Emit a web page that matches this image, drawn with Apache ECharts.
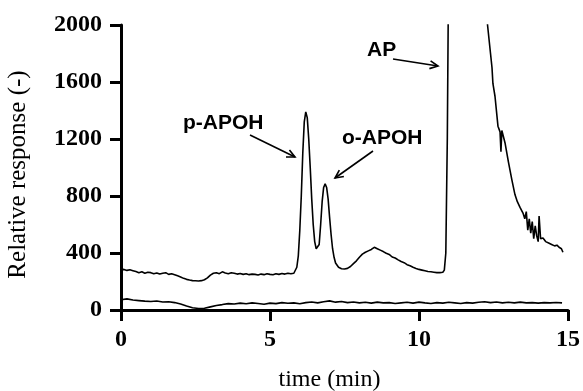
<!DOCTYPE html>
<html>
<head>
<meta charset="utf-8">
<script src="https://cdn.jsdelivr.net/npm/echarts@6/dist/echarts.min.js"></script>
<style>html,body{margin:0;padding:0;background:#fff}#c{width:583px;height:391px}</style>
</head>
<body>
<div id="c"></div>
<script>
// ---- data ----
var xTicks = [0, 5, 10, 15];
var yTicks = [0, 400, 800, 1200, 1600, 2000];

var timeUpper = [0.0,0.1,0.2,0.3,0.4,0.5,0.6,0.7,0.8,0.9,1.0,1.1,1.2,1.3,1.4,1.5,1.6,1.7,1.8,1.9,
  2.0,2.1,2.2,2.3,2.4,2.5,2.6,2.7,2.8,2.9,3.0,3.1,3.2,3.3,3.4,3.5,3.6,3.7,3.8,3.9,
  4.0,4.1,4.2,4.3,4.4,4.5,4.6,4.7,4.8,4.9,5.0,5.1,5.2,5.3,5.4,5.5,5.6,5.7,5.8,5.85,
  5.9,5.95,6.0,6.05,6.1,6.15,6.2,6.25,6.3,6.35,6.4,6.45,6.5,6.55,6.6,6.65,6.7,6.75,6.8,6.85,
  6.9,6.95,7.0,7.05,7.1,7.15,7.2,7.3,7.4,7.5,7.6,7.7,7.8,7.9,8.0,8.1,8.2,8.3,8.4,8.5,
  8.6,8.7,8.8,8.9,9.0,9.1,9.2,9.3,9.4,9.5,9.6,9.7,9.8,9.9,10.0,10.1,10.2,10.3,10.4,10.5,
  10.6,10.7,10.8,10.85,10.9,10.95,11.0,11.1,12.0,12.2,12.3,12.4,12.45,12.48,12.55,12.65,12.72,12.75,12.78,12.89,
  13.0,13.12,13.22,13.3,13.39,13.49,13.55,13.6,13.65,13.7,13.75,13.8,13.85,13.9,13.95,14.0,14.03,14.08,14.16,14.25,
  14.35,14.45,14.55,14.63,14.7,14.78,14.83];
var respUpper = [280,285,278,282,276,270,262,268,258,265,262,255,260,252,258,262,250,255,248,240,
  232,222,215,210,206,205,203,206,212,225,245,258,262,255,268,260,255,262,258,252,
  256,250,254,248,252,250,246,252,248,255,250,247,254,250,256,252,258,254,258,270,
  300,380,560,800,1100,1320,1390,1350,1200,1000,780,600,480,430,420,460,600,760,860,885,
  860,780,650,530,430,370,330,300,290,288,292,305,325,345,370,392,405,415,425,440,
  430,420,410,398,390,372,365,352,340,332,318,310,300,292,285,280,275,270,268,265,
  262,262,265,280,400,1200,2600,3500,3500,2400,2000,1800,1700,1590,1500,1290,1250,1110,1260,1170,
  1040,910,810,760,720,680,640,690,560,640,540,620,500,590,520,480,660,500,505,480,
  470,460,450,455,440,430,405];

var timeLower = [0.0,0.2,0.4,0.6,0.8,1.0,1.2,1.4,1.6,1.8,2.0,2.2,2.4,2.6,2.8,3.0,3.2,3.4,3.6,3.8,
  4.0,4.2,4.4,4.6,4.8,5.0,5.2,5.4,5.6,5.8,6.0,6.2,6.4,6.6,6.8,7.0,7.2,7.4,7.6,7.8,
  8.0,8.2,8.4,8.6,8.8,9.0,9.2,9.4,9.6,9.8,10.0,10.2,10.4,10.6,10.8,11.0,11.2,11.4,11.6,11.8,
  12.0,12.2,12.4,12.6,12.8,13.0,13.2,13.4,13.6,13.8,14.0,14.2,14.4,14.6,14.8];
var respLower = [72,78,70,66,62,60,63,56,58,52,42,28,16,10,12,22,32,38,45,42,
  48,44,50,46,40,48,45,52,47,50,44,52,56,50,58,64,55,60,52,56,
  50,54,48,55,50,52,46,50,54,48,55,50,46,52,48,54,50,46,52,48,
  54,58,52,56,50,54,50,55,50,52,48,52,50,53,50];

var labelTexts = ['p-APOH', 'o-APOH', 'AP'];

function pairs(xs, ys) { return xs.map(function (x, i) { return [x, ys[i]]; }); }

var chart = echarts.init(document.getElementById('c'), null, { renderer: 'canvas' });

function arrow(x1, y1, x2, y2) {
  var a = Math.atan2(y2 - y1, x2 - x1), L = 9, s = 0.45;
  return {
    type: 'group', children: [
      { type: 'line', shape: { x1: x1, y1: y1, x2: x2, y2: y2 }, style: { stroke: '#000', lineWidth: 1.6 } },
      { type: 'polyline', shape: { points: [
        [x2 - L * Math.cos(a - s), y2 - L * Math.sin(a - s)], [x2, y2],
        [x2 - L * Math.cos(a + s), y2 - L * Math.sin(a + s)]] },
        style: { stroke: '#000', lineWidth: 1.6, fill: null } }
    ]
  };
}
var annFont = 'bold 21px "Liberation Sans", Arial, sans-serif';
var plain = function (v) { return String(v); };

chart.setOption({
  animation: false,
  backgroundColor: '#fff',
  grid: { left: 121, right: 15, top: 25, bottom: 81, containLabel: false, outerBoundsMode: 'none' },
  xAxis: {
    type: 'value', min: 0, max: 15, interval: 5,
    name: 'time (min)', nameLocation: 'middle', nameGap: 58,
    nameTextStyle: { fontFamily: '"Liberation Serif", serif', fontSize: 24, fontWeight: 'normal', color: '#000', padding: [0, 30, 0, 0] },
    axisLine: { onZero: false, lineStyle: { color: '#000', width: 3 } },
    axisTick: { inside: false, length: 11, lineStyle: { color: '#000', width: 3 } },
    axisLabel: { margin: 18, color: '#000', fontFamily: '"Liberation Serif", serif', fontSize: 24, fontWeight: 'bold', formatter: plain },
    splitLine: { show: false }
  },
  yAxis: {
    type: 'value', min: 0, max: 2000, interval: 400,
    name: 'Relative response (-)', nameLocation: 'middle', nameGap: 90, nameRotate: 90,
    nameTextStyle: { fontFamily: '"Liberation Serif", serif', fontSize: 25, fontWeight: 'normal', color: '#000', padding: [0, 14, 0, 0] },
    axisLine: { onZero: false, lineStyle: { color: '#000', width: 3 } },
    axisTick: { inside: false, length: 11, lineStyle: { color: '#000', width: 3 } },
    axisLabel: { margin: 19, color: '#000', fontFamily: '"Liberation Serif", serif', fontSize: 24, fontWeight: 'bold', formatter: plain },
    splitLine: { show: false }
  },
  series: [
    { type: 'line', data: pairs(timeUpper, respUpper), showSymbol: false, clip: true,
      lineStyle: { color: '#000', width: 1.6 } },
    { type: 'line', data: pairs(timeLower, respLower), showSymbol: false, clip: true,
      lineStyle: { color: '#000', width: 1.6 } }
  ],
  graphic: [
    { type: 'text', left: 183, top: 113, style: { text: labelTexts[0], font: annFont, fill: '#000' } },
    { type: 'text', left: 342, top: 128, style: { text: labelTexts[1], font: annFont, fill: '#000' } },
    { type: 'text', left: 367, top: 40, style: { text: labelTexts[2], font: annFont, fill: '#000' } },
    arrow(250, 135, 295, 157),
    arrow(373, 151, 335, 178),
    arrow(393, 59, 438, 66)
  ]
});
</script>
</body>
</html>
